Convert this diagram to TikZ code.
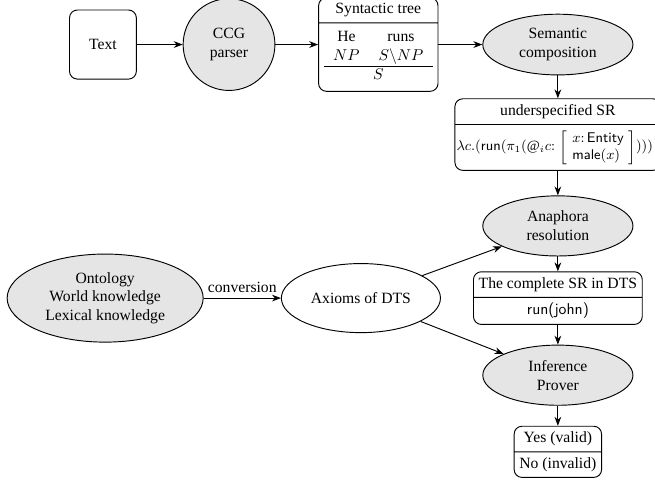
\documentclass[tikz,border=0pt]{standalone}
\usepackage{amsmath}
\usepackage{fontspec}
\setmainfont{Liberation Serif}
\usetikzlibrary{shapes.multipart,shapes.geometric,arrows.meta}

\begin{document}
\begin{tikzpicture}[>=Stealth,semithick,
        roundbox/.style={draw,rounded corners=5pt,align=center},
        splitbox/.style={draw,rounded corners=5pt,rectangle split,rectangle split parts=2},
        procell/.style={draw,ellipse,fill=gray!20,align=center,minimum width=3.37cm,minimum height=1.35cm}]
        %% Frame
        \useasboundingbox (0,0) rectangle (14.70,-10.77);
        %% Parsing
        \node[roundbox,minimum width=1.5cm,minimum height=1.55cm] (text) at (2.31,-1.0) {Text};
        \node[draw,circle,fill=gray!20,align=center,minimum size=2.06cm] (ccg) at (5.14,-1.0) {CCG\\parser};
        \node[splitbox] (tree) at (8.49,-1.0) {Syntactic tree
            \nodepart{second}\begin{tabular}{cc}
                He & runs\\
                $NP$ & $S\backslash NP$\\ \hline
                \multicolumn{2}{c}{$S$}
            \end{tabular}};
        \node[procell] (sem) at (12.52,-1.0) {Semantic\\composition};
        %% Semantic representations
        \node[splitbox,inner xsep=1pt] (usr) at (12.52,-3.02) {underspecified SR
            \nodepart{second}\makebox[4.55cm][l]{\small\setlength{\arraycolsep}{3pt}%
                $\lambda c.(\mathsf{run}(\pi_1(@_i c{:}\,
                \left[\begin{array}{l} x{:}\,\mathsf{Entity}\\ \mathsf{male}(x)\end{array}\right])))$}};
        \node[procell] (ana) at (12.52,-5.07) {Anaphora\\resolution};
        \node[splitbox] (full) at (12.52,-6.69) {The complete SR in DTS
            \nodepart{second}\textsf{run(john)}};
        \node[procell] (prover) at (12.52,-8.42) {Inference\\Prover};
        \node[splitbox] (answer) at (12.52,-10.14) {Yes (valid)\nodepart{second}No (invalid)};
        %% Knowledge
        \node[draw,ellipse,fill=gray!20,align=center,minimum width=4.4cm,minimum height=1.91cm] (onto) at (2.36,-6.69) {Ontology\\World knowledge\\Lexical knowledge};
        \node[draw,ellipse,minimum width=3.57cm,minimum height=1.55cm] (axioms) at (8.10,-6.69) {Axioms of DTS};
        %% Arrows
        \draw[->] (text) -- (ccg);
        \draw[->] (ccg) -- (tree);
        \draw[->] (tree) -- (sem);
        \draw[->] (sem) -- (usr);
        \draw[->] (usr) -- (ana);
        \draw[->] (ana) -- (full);
        \draw[->] (full) -- (prover);
        \draw[->] (prover) -- (answer);
        \draw[->] (onto) -- node[above] {conversion} (axioms);
        \draw[->] (axioms) -- (ana);
        \draw[->] (axioms) -- (prover);
    \end{tikzpicture}
\end{document}
